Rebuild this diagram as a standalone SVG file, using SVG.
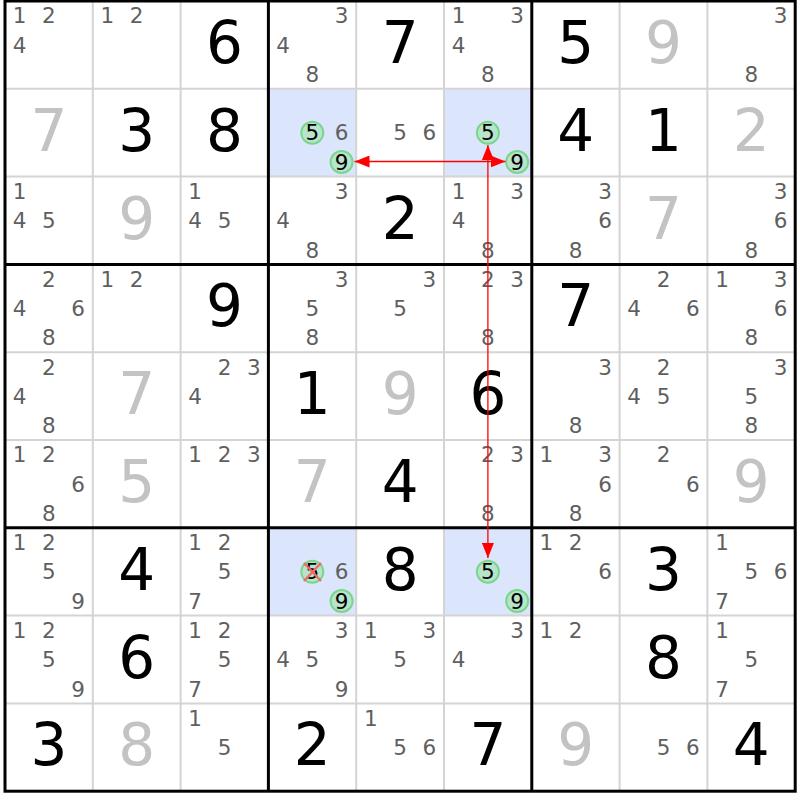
<svg xmlns="http://www.w3.org/2000/svg" width="800" height="800" viewBox="0 0 800 800">
<style>
text{font-family:"DejaVu Sans","Verdana",sans-serif;text-anchor:middle}
.g{font-size:58px;fill:#000}
.s{font-size:58px;fill:#c3c3c3}
.c{font-size:21.5px;fill:#5f5f5f}
.k{font-size:21.5px;fill:#000}
.hl{fill:#dbe5fb}
.ring{fill:#b9e4cc;stroke:#7ad68a;stroke-width:2}
.thin{stroke:#d4d4d4;stroke-width:2}
.thick{stroke:#000;stroke-width:3}
.arrow{stroke:#ff0000;stroke-width:1.3;fill:none;marker-start:url(#ah);marker-end:url(#ah)}
.x{stroke:#f06a6a;stroke-width:2.5}
</style>
<defs>
<marker id="ah" markerUnits="userSpaceOnUse" markerWidth="16" markerHeight="12" refX="15" refY="6" orient="auto-start-reverse">
<path d="M0,0 L15,6 L0,12 z" fill="#ff0000"/>
</marker>
</defs>
<rect x="0" y="0" width="800" height="800" fill="#fff"/>
<g id="highlights">
<rect class="hl" x="268.4" y="88.8" width="87.8" height="87.8"/>
<rect class="hl" x="444" y="88.8" width="87.8" height="87.8"/>
<rect class="hl" x="268.4" y="527.8" width="87.8" height="87.8"/>
<rect class="hl" x="444" y="527.8" width="87.8" height="87.8"/>
</g>
<g id="grid">
<line class="thin" x1="92.8" y1="1" x2="92.8" y2="791.2"/>
<line class="thin" x1="180.6" y1="1" x2="180.6" y2="791.2"/>
<line class="thin" x1="356.2" y1="1" x2="356.2" y2="791.2"/>
<line class="thin" x1="444" y1="1" x2="444" y2="791.2"/>
<line class="thin" x1="619.6" y1="1" x2="619.6" y2="791.2"/>
<line class="thin" x1="707.4" y1="1" x2="707.4" y2="791.2"/>
<line class="thin" x1="5" y1="88.8" x2="795.2" y2="88.8"/>
<line class="thin" x1="5" y1="176.6" x2="795.2" y2="176.6"/>
<line class="thin" x1="5" y1="352.2" x2="795.2" y2="352.2"/>
<line class="thin" x1="5" y1="440" x2="795.2" y2="440"/>
<line class="thin" x1="5" y1="615.6" x2="795.2" y2="615.6"/>
<line class="thin" x1="5" y1="703.4" x2="795.2" y2="703.4"/>
<line class="thick" x1="268.4" y1="1" x2="268.4" y2="791.2"/>
<line class="thick" x1="531.8" y1="1" x2="531.8" y2="791.2"/>
<line class="thick" x1="5" y1="264.4" x2="795.2" y2="264.4"/>
<line class="thick" x1="5" y1="527.8" x2="795.2" y2="527.8"/>
<rect x="5" y="1" width="790.2" height="790.2" fill="none" stroke="#000" stroke-width="3"/>
</g>
<g id="rings">
<circle class="ring" cx="312.3" cy="132.7" r="11"/>
<circle class="ring" cx="341.6" cy="162" r="11"/>
<circle class="ring" cx="487.9" cy="132.7" r="11"/>
<circle class="ring" cx="517.2" cy="162" r="11"/>
<circle class="ring" cx="312.3" cy="571.7" r="11"/>
<circle class="ring" cx="341.6" cy="601" r="11"/>
<circle class="ring" cx="487.9" cy="571.7" r="11"/>
<circle class="ring" cx="517.2" cy="601" r="11"/>
</g>
<g id="r1" transform="translate(0,1.2)">
<text class="c" x="19.6" y="22.2">1</text><text class="c" x="48.9" y="22.2">2</text><text class="c" x="19.6" y="51.5">4</text>
<text class="c" x="107.4" y="22.2">1</text><text class="c" x="136.7" y="22.2">2</text>
<text class="g" x="224.5" y="61.8">6</text>
<text class="c" x="341.6" y="22.2">3</text><text class="c" x="283" y="51.5">4</text><text class="c" x="312.3" y="80.8">8</text>
<text class="g" x="400.1" y="61.8">7</text>
<text class="c" x="458.6" y="22.2">1</text><text class="c" x="517.2" y="22.2">3</text><text class="c" x="458.6" y="51.5">4</text><text class="c" x="487.9" y="80.8">8</text>
<text class="g" x="575.7" y="61.8">5</text>
<text class="s" x="663.5" y="61.8">9</text>
<text class="c" x="780.6" y="22.2">3</text><text class="c" x="751.3" y="80.8">8</text>
</g>
<g id="r2" transform="translate(0,1.2)">
<text class="s" x="48.9" y="149.6">7</text>
<text class="g" x="136.7" y="149.6">3</text>
<text class="g" x="224.5" y="149.6">8</text>
<text class="k" x="312.3" y="139.3">5</text><text class="c" x="341.6" y="139.3">6</text><text class="k" x="341.6" y="168.6">9</text>
<text class="c" x="400.1" y="139.3">5</text><text class="c" x="429.4" y="139.3">6</text>
<text class="k" x="487.9" y="139.3">5</text><text class="k" x="517.2" y="168.6">9</text>
<text class="g" x="575.7" y="149.6">4</text>
<text class="g" x="663.5" y="149.6">1</text>
<text class="s" x="751.3" y="149.6">2</text>
</g>
<g id="r3" transform="translate(0,1.2)">
<text class="c" x="19.6" y="197.8">1</text><text class="c" x="19.6" y="227.1">4</text><text class="c" x="48.9" y="227.1">5</text>
<text class="s" x="136.7" y="237.4">9</text>
<text class="c" x="195.2" y="197.8">1</text><text class="c" x="195.2" y="227.1">4</text><text class="c" x="224.5" y="227.1">5</text>
<text class="c" x="341.6" y="197.8">3</text><text class="c" x="283" y="227.1">4</text><text class="c" x="312.3" y="256.4">8</text>
<text class="g" x="400.1" y="237.4">2</text>
<text class="c" x="458.6" y="197.8">1</text><text class="c" x="517.2" y="197.8">3</text><text class="c" x="458.6" y="227.1">4</text><text class="c" x="487.9" y="256.4">8</text>
<text class="c" x="605" y="197.8">3</text><text class="c" x="605" y="227.1">6</text><text class="c" x="575.7" y="256.4">8</text>
<text class="s" x="663.5" y="237.4">7</text>
<text class="c" x="780.6" y="197.8">3</text><text class="c" x="780.6" y="227.1">6</text><text class="c" x="751.3" y="256.4">8</text>
</g>
<g id="r4" transform="translate(0,1.2)">
<text class="c" x="48.9" y="285.6">2</text><text class="c" x="19.6" y="314.9">4</text><text class="c" x="78.2" y="314.9">6</text><text class="c" x="48.9" y="344.2">8</text>
<text class="c" x="107.4" y="285.6">1</text><text class="c" x="136.7" y="285.6">2</text>
<text class="g" x="224.5" y="325.2">9</text>
<text class="c" x="341.6" y="285.6">3</text><text class="c" x="312.3" y="314.9">5</text><text class="c" x="312.3" y="344.2">8</text>
<text class="c" x="429.4" y="285.6">3</text><text class="c" x="400.1" y="314.9">5</text>
<text class="c" x="487.9" y="285.6">2</text><text class="c" x="517.2" y="285.6">3</text><text class="c" x="487.9" y="344.2">8</text>
<text class="g" x="575.7" y="325.2">7</text>
<text class="c" x="663.5" y="285.6">2</text><text class="c" x="634.2" y="314.9">4</text><text class="c" x="692.8" y="314.9">6</text>
<text class="c" x="722" y="285.6">1</text><text class="c" x="780.6" y="285.6">3</text><text class="c" x="780.6" y="314.9">6</text><text class="c" x="751.3" y="344.2">8</text>
</g>
<g id="r5" transform="translate(0,1.2)">
<text class="c" x="48.9" y="373.4">2</text><text class="c" x="19.6" y="402.7">4</text><text class="c" x="48.9" y="432">8</text>
<text class="s" x="136.7" y="413">7</text>
<text class="c" x="224.5" y="373.4">2</text><text class="c" x="253.8" y="373.4">3</text><text class="c" x="195.2" y="402.7">4</text>
<text class="g" x="312.3" y="413">1</text>
<text class="s" x="400.1" y="413">9</text>
<text class="g" x="487.9" y="413">6</text>
<text class="c" x="605" y="373.4">3</text><text class="c" x="575.7" y="432">8</text>
<text class="c" x="663.5" y="373.4">2</text><text class="c" x="634.2" y="402.7">4</text><text class="c" x="663.5" y="402.7">5</text>
<text class="c" x="780.6" y="373.4">3</text><text class="c" x="751.3" y="402.7">5</text><text class="c" x="751.3" y="432">8</text>
</g>
<g id="r6" transform="translate(0,1.2)">
<text class="c" x="19.6" y="461.2">1</text><text class="c" x="48.9" y="461.2">2</text><text class="c" x="78.2" y="490.5">6</text><text class="c" x="48.9" y="519.8">8</text>
<text class="s" x="136.7" y="500.8">5</text>
<text class="c" x="195.2" y="461.2">1</text><text class="c" x="224.5" y="461.2">2</text><text class="c" x="253.8" y="461.2">3</text>
<text class="s" x="312.3" y="500.8">7</text>
<text class="g" x="400.1" y="500.8">4</text>
<text class="c" x="487.9" y="461.2">2</text><text class="c" x="517.2" y="461.2">3</text><text class="c" x="487.9" y="519.8">8</text>
<text class="c" x="546.4" y="461.2">1</text><text class="c" x="605" y="461.2">3</text><text class="c" x="605" y="490.5">6</text><text class="c" x="575.7" y="519.8">8</text>
<text class="c" x="663.5" y="461.2">2</text><text class="c" x="692.8" y="490.5">6</text>
<text class="s" x="751.3" y="500.8">9</text>
</g>
<g id="r7" transform="translate(0,1.2)">
<text class="c" x="19.6" y="549">1</text><text class="c" x="48.9" y="549">2</text><text class="c" x="48.9" y="578.3">5</text><text class="c" x="78.2" y="607.6">9</text>
<text class="g" x="136.7" y="588.6">4</text>
<text class="c" x="195.2" y="549">1</text><text class="c" x="224.5" y="549">2</text><text class="c" x="224.5" y="578.3">5</text><text class="c" x="195.2" y="607.6">7</text>
<text class="k" x="312.3" y="578.3">5</text><text class="c" x="341.6" y="578.3">6</text><text class="k" x="341.6" y="607.6">9</text>
<text class="g" x="400.1" y="588.6">8</text>
<text class="k" x="487.9" y="578.3">5</text><text class="k" x="517.2" y="607.6">9</text>
<text class="c" x="546.4" y="549">1</text><text class="c" x="575.7" y="549">2</text><text class="c" x="605" y="578.3">6</text>
<text class="g" x="663.5" y="588.6">3</text>
<text class="c" x="722" y="549">1</text><text class="c" x="751.3" y="578.3">5</text><text class="c" x="780.6" y="578.3">6</text><text class="c" x="722" y="607.6">7</text>
</g>
<g id="r8" transform="translate(0,1.2)">
<text class="c" x="19.6" y="636.8">1</text><text class="c" x="48.9" y="636.8">2</text><text class="c" x="48.9" y="666.1">5</text><text class="c" x="78.2" y="695.4">9</text>
<text class="g" x="136.7" y="676.4">6</text>
<text class="c" x="195.2" y="636.8">1</text><text class="c" x="224.5" y="636.8">2</text><text class="c" x="224.5" y="666.1">5</text><text class="c" x="195.2" y="695.4">7</text>
<text class="c" x="341.6" y="636.8">3</text><text class="c" x="283" y="666.1">4</text><text class="c" x="312.3" y="666.1">5</text><text class="c" x="341.6" y="695.4">9</text>
<text class="c" x="370.8" y="636.8">1</text><text class="c" x="429.4" y="636.8">3</text><text class="c" x="400.1" y="666.1">5</text>
<text class="c" x="517.2" y="636.8">3</text><text class="c" x="458.6" y="666.1">4</text>
<text class="c" x="546.4" y="636.8">1</text><text class="c" x="575.7" y="636.8">2</text>
<text class="g" x="663.5" y="676.4">8</text>
<text class="c" x="722" y="636.8">1</text><text class="c" x="751.3" y="666.1">5</text><text class="c" x="722" y="695.4">7</text>
</g>
<g id="r9" transform="translate(0,1.2)">
<text class="g" x="48.9" y="764.2">3</text>
<text class="s" x="136.7" y="764.2">8</text>
<text class="c" x="195.2" y="724.6">1</text><text class="c" x="224.5" y="753.9">5</text>
<text class="g" x="312.3" y="764.2">2</text>
<text class="c" x="370.8" y="724.6">1</text><text class="c" x="400.1" y="753.9">5</text><text class="c" x="429.4" y="753.9">6</text>
<text class="g" x="487.9" y="764.2">7</text>
<text class="s" x="575.7" y="764.2">9</text>
<text class="c" x="663.5" y="753.9">5</text><text class="c" x="692.8" y="753.9">6</text>
<text class="g" x="751.3" y="764.2">4</text>
</g>
<g id="elimination">
<line class="x" x1="304" y1="563" x2="321" y2="581"/>
<line class="x" x1="321" y1="563" x2="304" y2="581"/>
</g>
<g id="connectors">
<line class="arrow" x1="505.5" y1="161.5" x2="354.5" y2="161.5"/>
<line class="arrow" x1="487.9" y1="145" x2="487.9" y2="558"/>
</g>
</svg>
